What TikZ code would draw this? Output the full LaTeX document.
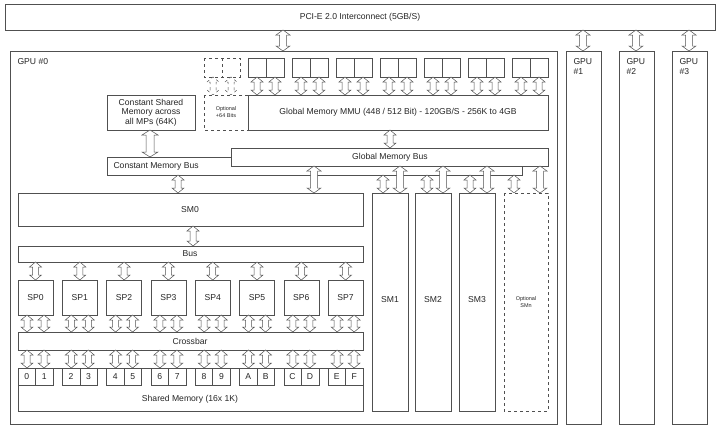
\documentclass[tikz,border=0pt]{standalone}
\usepackage{fontspec}
\setmainfont{Liberation Sans}
\definecolor{ln}{HTML}{505050}
\newcommand\darr[4][12]{%
\pgfmathsetmacro\hw{#1/2}\pgfmathsetmacro\sw{#1/4}%
\draw[arr] (#2-\hw,#3+5) -- (#2,#3) -- (#2+\hw,#3+5) -- (#2+\sw,#3+5) -- (#2+\sw,#4-5) -- (#2+\hw,#4-5) -- (#2,#4) -- (#2-\hw,#4-5) -- (#2-\sw,#4-5) -- (#2-\sw,#3+5) -- cycle;}
\begin{document}
\begin{tikzpicture}[x=1pt,y=-1pt,
  bx/.style={draw=ln,fill=white,line width=0.6pt},
  dbx/.style={draw=ln,fill=white,line width=0.6pt,dashed},
  arr/.style={draw=ln,fill=white,line width=0.5pt},
  lb/.style={font=\fontsize{8.6}{9.6}\selectfont,text=black!85},
  sl/.style={font=\fontsize{5.5}{6.5}\selectfont,text=black!85,align=center}]
\useasboundingbox (0,0) rectangle (720,429);
% PCI
\draw[bx] (5,4) rectangle (715,30);
\node[lb] (pci) at (360,17) {PCI-E 2.0 Interconnect (5GB/S)};
\darr[14]{283}{30}{51}
\draw[bx] (10,51) rectangle (557,424);
\node[lb,anchor=north west] (g0) at (14,55) {GPU \#0};
\foreach \x/\n/\a in {566/1/583,619/2/636,672/3/689}{
  \darr[14]{\a}{30}{51}
  \draw[bx] (\x,51) rectangle (\x+35,424);
  \node[lb,anchor=north west,align=left] (g\n) at (\x+4,55) {GPU\\\#\n};
}
% memory chips
\draw[dbx] (204,58) rectangle (222,77); \draw[dbx] (222,58) rectangle (240,77);
\begin{scope}[arr/.append style={dashed}]
\darr{213}{77}{95}\darr{231}{77}{95}
\end{scope}
\foreach \k in {0,...,6}{
  \pgfmathsetmacro\xx{248+44*\k}
  \draw[bx] (\xx,58) rectangle (\xx+18,77); \draw[bx] (\xx+18,58) rectangle (\xx+36,77);
  \darr{\xx+9}{77}{95}\darr{\xx+27}{77}{95}
}
\draw[dbx] (204,95) rectangle (248,130);
\draw[bx] (248,95) -- (548,95) -- (548,130) -- (248,130);
\draw[ln,line width=0.6pt] (248,95) -- (248,130);
\node[sl] (opt) at (226,112) {Optional\\+64 Bits};
\node[lb] (mmu) at (398,112) {Global Memory MMU (448 / 512 Bit) - 120GB/S - 256K to 4GB};
\draw[bx] (107,95) rectangle (195,130);
\node[lb,align=center] (csm) at (151,112.5) {Constant Shared\\Memory across\\all MPs (64K)};
\darr[16]{150}{130}{157}
% buses
\draw[bx] (107,157) rectangle (522,175);
\node[lb,anchor=west] (cmb) at (110,166) {Constant Memory Bus};
\darr{390}{130}{148}
\draw[bx] (231,148) rectangle (548,166);
\node[lb] (gmb) at (390,157) {Global Memory Bus};
% SM0
\darr{178}{175}{193}
\darr[14]{314}{166}{193}
\draw[bx] (18,193) rectangle (363,226);
\node[lb] (sm0) at (190,210) {SM0};
% SM1..
\foreach \x/\s/\t/\n in {372/383/400/SM1,415/427/443/SM2,459/470/487/SM3}{
  \darr{\s}{175}{193}\darr[14]{\t}{166}{193}
  \draw[bx] (\x,193) rectangle (\x+36,411);
  \node[lb] at (\x+18,300) {\n};
}
\darr{514}{175}{193}\darr[14]{540}{166}{193}
\draw[dbx] (504,193) rectangle (548,411);
\node[sl] (smn) at (526,302) {Optional\\SMn};
% Bus
\darr{193}{226}{246}
\draw[bx] (18,246) rectangle (363,262);
\node[lb] (bus) at (190,254) {Bus};
\draw[bx] (18,332) rectangle (363,350);
\node[lb] (xbar) at (190,341) {Crossbar};
\draw[bx] (18,368) rectangle (363,411);
\node[lb] (shm) at (190,399) {Shared Memory (16x 1K)};
\foreach \i/\a/\b in {0/0/1,1/2/3,2/4/5,3/6/7,4/8/9,5/A/B,6/C/D,7/E/F}{
  \pgfmathsetmacro\xx{18+44.3*\i}
  \darr{\xx+17.5}{262}{280}
  \draw[bx] (\xx,280) rectangle (\xx+35,315);
  \node[lb] (sp\i) at (\xx+17.5,297.5) {SP\i};
  \darr{\xx+9}{315}{332}\darr{\xx+26}{315}{332}
  \darr{\xx+9}{350}{368}\darr{\xx+26}{350}{368}
  \draw[bx] (\xx,368) rectangle (\xx+17.5,385);
  \draw[bx] (\xx+17.5,368) rectangle (\xx+35,385);
  \node[lb] at (\xx+8.75,376.5) {\a};
  \node[lb] at (\xx+26.25,376.5) {\b};
}
\end{tikzpicture}
\end{document}
